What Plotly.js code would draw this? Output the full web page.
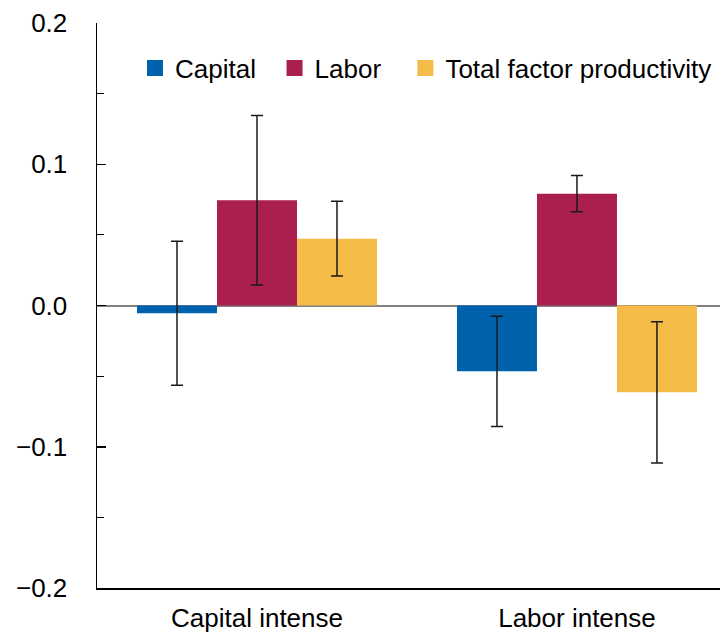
<!DOCTYPE html>
<html>
<head>
<meta charset="utf-8">
<script src="https://cdn.plot.ly/plotly-3.0.1.min.js"></script>
<style>html,body{margin:0;padding:0;background:#fff;overflow:hidden}</style>
</head>
<body>
<div id="chart" style="width:720px;height:637px"></div>
<script>
const categories = ['Capital intense', 'Labor intense'];
const seriesNames = ['Capital', 'Labor', 'Total factor productivity'];
const capitalValues = [-0.0055, -0.0466];
const capitalErrors = [0.051, 0.039];
const laborValues = [0.0745, 0.0792];
const laborErrors = [0.060, 0.0128];
const tfpValues = [0.0473, -0.0615];
const tfpErrors = [0.0265, 0.050];
const yTickVals = [-0.2, -0.1, 0.0, 0.1, 0.2];
const yTickText = ['\u22120.2', '\u22120.1', '0.0', '0.1', '0.2'];

const colors = ['#0061AD', '#AA1F4B', '#F4BB48'];
const FONT = '"Liberation Sans", Arial, sans-serif';
const FS = 26;

const values = [capitalValues, laborValues, tfpValues];
const errors = [capitalErrors, laborErrors, tfpErrors];
const legendIds = ['legend', 'legend2', 'legend3'];

const traces = [];
for (let i = 0; i < 3; i++) {
  traces.push({
    type: 'bar', x: categories, y: values[i], name: seriesNames[i],
    marker: {color: colors[i], line: {width: 0}},
    showlegend: false,
    error_y: {type: 'data', array: errors[i], visible: true, color: '#1a1a1a', thickness: 1.5, width: 6}
  });
}
for (let i = 0; i < 3; i++) {
  traces.push({
    type: 'scatter', mode: 'markers', x: [null], y: [null], name: seriesNames[i],
    marker: {symbol: 'square', size: 17, color: colors[i]},
    legend: legendIds[i], showlegend: true, hoverinfo: 'skip'
  });
}

const legendBase = {orientation: 'h', yanchor: 'middle', xanchor: 'left', y: 0.92,
  font: {family: FONT, size: FS, color: '#000'}, bgcolor: 'rgba(0,0,0,0)', borderwidth: 0};

const layout = {
  width: 720, height: 637,
  margin: {l: 97, r: 0, t: 23, b: 49, pad: 0, autoexpand: false},
  paper_bgcolor: '#fff', plot_bgcolor: '#fff',
  font: {family: FONT, size: FS, color: '#000'},
  barmode: 'group', bargap: 0.25, bargroupgap: 0,
  xaxis: {
    type: 'category', range: [-0.5, 1.447], showline: true, linecolor: '#000', linewidth: 1.5,
    ticks: '', showgrid: false, zeroline: false, tickfont: {family: FONT, size: FS, color: '#000'},
    ticklabelstandoff: 6, fixedrange: true, automargin: false
  },
  yaxis: {
    range: [-0.2, 0.2], tickvals: yTickVals, ticktext: yTickText,
    ticks: 'inside', ticklen: 9, tickwidth: 1.5, tickcolor: '#000',
    minor: {dtick: 0.05, tick0: 0, ticks: 'inside', ticklen: 7, tickwidth: 1.2, tickcolor: '#000'},
    showline: true, linecolor: '#000', linewidth: 1.5, showgrid: false,
    zeroline: true, zerolinecolor: '#808080', zerolinewidth: 2,
    tickfont: {family: FONT, size: FS, color: '#000'}, ticklabelstandoff: 23, fixedrange: true, automargin: false
  },
  legend: Object.assign({}, legendBase, {x: 0.061}),
  legend2: Object.assign({}, legendBase, {x: 0.285}),
  legend3: Object.assign({}, legendBase, {x: 0.495})
};

Plotly.newPlot('chart', traces, layout, {staticPlot: true, displayModeBar: false});
</script>
</body>
</html>
